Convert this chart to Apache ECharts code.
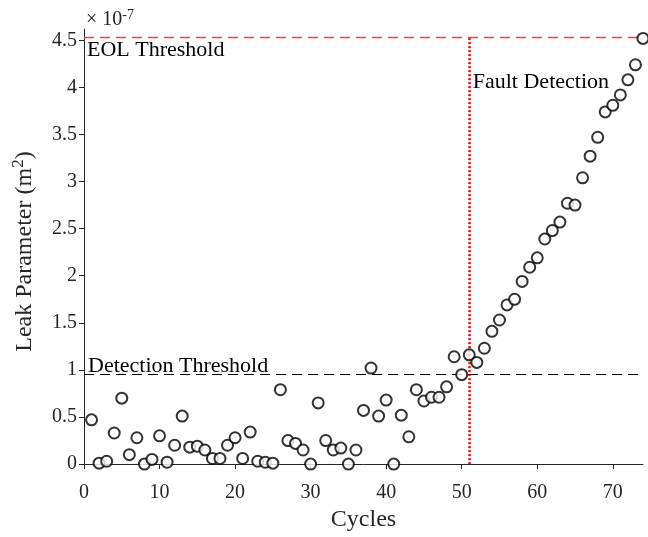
<!DOCTYPE html>
<html>
<head>
<meta charset="utf-8">
<script src="https://cdn.jsdelivr.net/npm/echarts@6/dist/echarts.min.js"></script>
<style>html,body{margin:0;padding:0;background:#fff}#c{width:648px;height:537px}</style>
</head>
<body>
<div id="c"></div>
<script>
const cycles = [1,2,3,4,5,6,7,8,9,10,11,12,13,14,15,16,17,18,19,20,21,22,23,24,25,26,27,28,29,30,31,32,33,34,35,36,37,38,39,40,41,42,43,44,45,46,47,48,49,50,51,52,53,54,55,56,57,58,59,60,61,62,63,64,65,66,67,68,69,70,71,72,73,74];
const leak = [0.47,0.01,0.03,0.33,0.70,0.10,0.28,0.00,0.05,0.30,0.02,0.20,0.51,0.18,0.19,0.15,0.06,0.06,0.20,0.28,0.06,0.34,0.03,0.02,0.01,0.79,0.25,0.22,0.15,0.00,0.65,0.25,0.15,0.17,0.00,0.15,0.57,1.02,0.51,0.68,0.00,0.52,0.29,0.79,0.67,0.71,0.71,0.82,1.14,0.95,1.16,1.08,1.23,1.41,1.53,1.69,1.75,1.94,2.09,2.19,2.39,2.48,2.57,2.77,2.75,3.04,3.27,3.47,3.74,3.81,3.92,4.08,4.24,4.52];
const detectionThreshold = 0.955;
const eolThreshold = 4.525;
const faultCycle = 51;
const faultLabelLevel = 4.05;
const xTickValues = [0, 10, 20, 30, 40, 50, 60, 70];
const yTickValues = [0, 0.5, 1, 1.5, 2, 2.5, 3, 3.5, 4, 4.5];
const xRange = [0, 74];
const yRange = [0, 4.62];

const font = 'Liberation Serif';
const axisColor = '#262626';
const chart = echarts.init(document.getElementById('c'), null, {renderer: 'canvas'});
chart.setOption({
  animation: false,
  backgroundColor: '#fff',
  grid: {left: 84, right: 5, top: 29, bottom: 72, containLabel: false},
  xAxis: {
    type: 'value', min: xRange[0], max: xRange[1],
    name: 'Cycles', nameLocation: 'middle', nameGap: 41,
    nameTextStyle: {fontFamily: font, fontSize: 24, color: axisColor},
    axisLine: {lineStyle: {color: axisColor, width: 1}},
    axisTick: {inside: false, length: 5, lineStyle: {color: axisColor}, customValues: xTickValues},
    axisLabel: {fontFamily: font, fontSize: 20, color: axisColor, margin: 19, customValues: xTickValues},
    splitLine: {show: false}
  },
  yAxis: {
    type: 'value', min: yRange[0], max: yRange[1],
    name: 'Leak Parameter (m{sup|2})', nameLocation: 'middle', nameGap: 45,
    nameTextStyle: {fontFamily: font, fontSize: 24, color: axisColor, padding: [0, 0, 0, -10],
      rich: {sup: {fontFamily: font, fontSize: 17, color: axisColor, verticalAlign: 'bottom', padding: [0,0,12,0]}}},
    axisLine: {show: true, lineStyle: {color: axisColor, width: 1}},
    axisTick: {show: true, inside: false, length: 5, lineStyle: {color: axisColor}, customValues: yTickValues},
    axisLabel: {fontFamily: font, fontSize: 20, color: axisColor, margin: 7, customValues: yTickValues},
    splitLine: {show: false}
  },
  graphic: [{
    type: 'text', left: 86, top: 8,
    style: {text: '× 10{sup|-7}', fontFamily: font, fontSize: 20, fill: axisColor,
      rich: {sup: {fontFamily: font, fontSize: 14, fill: axisColor, verticalAlign: 'top', padding:[0,0,10,0]}}}
  }],
  series: [{
    type: 'scatter',
    data: cycles.map((c, i) => [c, leak[i]]),
    symbol: 'emptyCircle', symbolSize: 11,
    itemStyle: {color: '#000', borderColor: '#000', borderWidth: 1.1},
    clip: false,
    z: 5,
    markLine: {
      silent: true, symbol: ['none', 'none'], animation: false,
      data: [
        {yAxis: detectionThreshold, lineStyle: {color: '#000', type: [10, 6], width: 1},
          label: {show: true, position: 'insideStartTop', formatter: 'Detection Threshold', distance: [4, -3],
            fontFamily: font, fontSize: 22, color: '#000'}},
        {yAxis: eolThreshold, lineStyle: {color: '#ff3b3b', type: [10, 6], width: 1.4, opacity: 1},
          label: {show: true, position: 'insideStartBottom', formatter: 'EOL Threshold', distance: [3, 2],
            fontFamily: font, fontSize: 22, color: '#000'}},
        [{coord: [faultCycle, 0], lineStyle: {color: '#ff0000', type: [2, 2], width: 2.5}, label: {show: false}},
         {coord: [faultCycle, eolThreshold]}]
      ]
    },
    markPoint: {
      silent: true, symbol: 'circle', symbolSize: 1,
      itemStyle: {color: 'rgba(0,0,0,0)'},
      data: [{coord: [faultCycle, faultLabelLevel], value: 1,
        label: {show: true, position: 'right', distance: 3, formatter: 'Fault Detection',
          fontFamily: font, fontSize: 22, color: '#000'}}]
    }
  }]
});
</script>
</body>
</html>
